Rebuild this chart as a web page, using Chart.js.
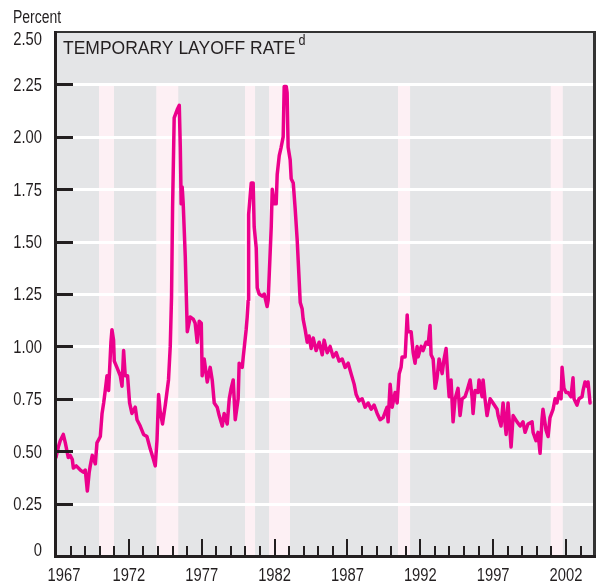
<!DOCTYPE html>
<html>
<head>
<meta charset="utf-8">
<script src="https://cdn.jsdelivr.net/npm/chart.js@4.4.0/dist/chart.umd.min.js"></script>
<style>
  html, body { margin: 0; padding: 0; background: #fff; }
  #wrap { width: 604px; height: 585px; }
</style>
</head>
<body>
<div id="wrap"><canvas id="chart" width="604" height="585"></canvas></div>
<script>
// Temporary layoff rate, percent
const years = [
  1967.00, 1967.16, 1967.29, 1967.50, 1967.64, 1967.84, 1967.98, 1968.12, 1968.19, 1968.39,
  1968.67, 1968.87, 1969.01, 1969.15, 1969.28, 1969.35, 1969.49, 1969.70, 1969.81, 1970.04,
  1970.16, 1970.27, 1970.38, 1970.50, 1970.61, 1970.68, 1970.77, 1970.84, 1970.95, 1971.00,
  1971.18, 1971.41, 1971.53, 1971.64, 1971.75, 1971.91, 1972.05, 1972.21, 1972.44, 1972.56,
  1972.78, 1973.01, 1973.24, 1973.47, 1973.69, 1973.81, 1973.93, 1974.04, 1974.15, 1974.31,
  1974.50, 1974.72, 1974.84, 1974.93, 1975.00, 1975.11, 1975.32, 1975.46, 1975.53, 1975.59,
  1975.66, 1975.73, 1975.87, 1976.01, 1976.21, 1976.42, 1976.55, 1976.69, 1976.83, 1976.97,
  1977.03, 1977.17, 1977.38, 1977.58, 1977.72, 1977.86, 1978.06, 1978.20, 1978.41, 1978.54,
  1978.75, 1978.89, 1979.02, 1979.16, 1979.30, 1979.50, 1979.57, 1979.78, 1979.85, 1980.05,
  1980.12, 1980.19, 1980.22, 1980.40, 1980.53, 1980.60, 1980.74, 1980.81, 1980.94, 1981.15,
  1981.29, 1981.49, 1981.56, 1981.77, 1981.84, 1981.97, 1982.11, 1982.18, 1982.32, 1982.45,
  1982.59, 1982.66, 1982.80, 1982.86, 1982.93, 1983.07, 1983.14, 1983.28, 1983.41, 1983.55,
  1983.62, 1983.76, 1983.89, 1983.96, 1984.10, 1984.24, 1984.37, 1984.51, 1984.65, 1984.85,
  1985.06, 1985.27, 1985.40, 1985.61, 1985.81, 1986.02, 1986.23, 1986.43, 1986.64, 1986.84,
  1987.05, 1987.25, 1987.46, 1987.60, 1987.80, 1988.01, 1988.21, 1988.42, 1988.63, 1988.83,
  1989.04, 1989.24, 1989.45, 1989.72, 1989.79, 1989.93, 1990.07, 1990.27, 1990.41, 1990.55,
  1990.68, 1990.75, 1990.96, 1991.10, 1991.16, 1991.37, 1991.51, 1991.64, 1991.78, 1991.85,
  1992.06, 1992.19, 1992.40, 1992.54, 1992.67, 1992.74, 1992.88, 1993.02, 1993.15, 1993.29,
  1993.50, 1993.63, 1993.77, 1993.91, 1993.98, 1994.11, 1994.25, 1994.39, 1994.59, 1994.73,
  1994.87, 1995.07, 1995.21, 1995.42, 1995.55, 1995.62, 1995.76, 1995.96, 1996.03, 1996.24,
  1996.31, 1996.44, 1996.58, 1996.79, 1996.99, 1997.27, 1997.34, 1997.54, 1997.68, 1997.89,
  1998.02, 1998.23, 1998.37, 1998.64, 1998.85, 1999.05, 1999.19, 1999.39, 1999.67, 1999.74,
  1999.94, 2000.08, 2000.22, 2000.35, 2000.42, 2000.63, 2000.77, 2000.90, 2001.11, 2001.25,
  2001.38, 2001.52, 2001.66, 2001.73, 2001.86, 2002.00, 2002.14, 2002.34, 2002.48, 2002.55,
  2002.75, 2002.89, 2003.10, 2003.17, 2003.30, 2003.44, 2003.51, 2003.65
];
const rates = [
  0.47, 0.52, 0.55, 0.58, 0.54, 0.47, 0.48, 0.46, 0.42, 0.43,
  0.41, 0.40, 0.41, 0.31, 0.40, 0.43, 0.48, 0.44, 0.54, 0.57,
  0.68, 0.73, 0.79, 0.86, 0.79, 0.89, 1.02, 1.08, 1.03, 0.93,
  0.90, 0.86, 0.81, 0.98, 0.86, 0.86, 0.73, 0.68, 0.71, 0.65,
  0.62, 0.58, 0.57, 0.51, 0.46, 0.43, 0.55, 0.77, 0.69, 0.63,
  0.72, 0.84, 1.00, 1.24, 1.66, 2.09, 2.13, 2.15, 1.95, 1.68,
  1.76, 1.68, 1.43, 1.07, 1.14, 1.13, 1.11, 1.02, 1.12, 1.11,
  0.86, 0.94, 0.83, 0.90, 0.84, 0.73, 0.71, 0.67, 0.62, 0.68,
  0.63, 0.75, 0.80, 0.84, 0.65, 0.75, 0.92, 0.90, 0.95, 1.08,
  1.14, 1.22, 1.63, 1.78, 1.78, 1.57, 1.47, 1.28, 1.25, 1.24,
  1.25, 1.19, 1.22, 1.57, 1.75, 1.68, 1.68, 1.82, 1.91, 1.95,
  2.00, 2.24, 2.24, 2.21, 1.95, 1.89, 1.80, 1.78, 1.66, 1.51,
  1.41, 1.21, 1.18, 1.13, 1.08, 1.02, 1.05, 0.99, 1.04, 0.98,
  1.02, 0.96, 1.03, 0.97, 1.00, 0.95, 0.97, 0.93, 0.94, 0.90,
  0.92, 0.87, 0.82, 0.77, 0.74, 0.75, 0.71, 0.73, 0.70, 0.72,
  0.68, 0.65, 0.66, 0.71, 0.64, 0.82, 0.71, 0.78, 0.73, 0.87,
  0.90, 0.95, 0.95, 1.15, 1.07, 1.07, 0.97, 0.92, 1.00, 0.95,
  1.00, 0.98, 1.02, 1.01, 1.10, 0.96, 0.94, 0.80, 0.85, 0.94,
  0.87, 0.94, 0.99, 0.83, 0.76, 0.84, 0.64, 0.75, 0.80, 0.67,
  0.75, 0.76, 0.79, 0.84, 0.76, 0.68, 0.79, 0.78, 0.84, 0.76,
  0.84, 0.75, 0.67, 0.75, 0.73, 0.70, 0.67, 0.62, 0.73, 0.58,
  0.73, 0.52, 0.67, 0.64, 0.62, 0.64, 0.59, 0.63, 0.64, 0.59,
  0.55, 0.59, 0.49, 0.65, 0.70, 0.60, 0.57, 0.66, 0.70, 0.75,
  0.73, 0.78, 0.75, 0.90, 0.80, 0.78, 0.78, 0.76, 0.85, 0.75,
  0.72, 0.75, 0.76, 0.79, 0.83, 0.81, 0.83, 0.73
];

// Recession periods (shaded)
const recessionStart = [1969.95, 1973.88, 1979.97, 1981.62, 1990.47, 2000.95];
const recessionEnd   = [1970.98, 1975.39, 1980.66, 1983.06, 1991.30, 2001.78];

// Axis ticks and labels
const yTicks = [0, 0.25, 0.5, 0.75, 1, 1.25, 1.5, 1.75, 2, 2.25, 2.5];
const yTickLabels = ["0", "0.25", "0.50", "0.75", "1.00", "1.25", "1.50", "1.75", "2.00", "2.25", "2.50"];
const xLabelYears = [1967, 1972, 1977, 1982, 1987, 1992, 1997, 2002];

const INK = "#231f20";
const SANS = "'Liberation Sans', Arial, sans-serif";

// condensed text: the regular face squeezed sideways
function narrowText(ctx, text, x, y, squeeze) {
  ctx.save();
  ctx.translate(x, y);
  ctx.scale(squeeze, 1);
  ctx.fillText(text, 0, 0);
  ctx.restore();
}

const frame = {
  id: "frame",
  beforeDatasetsDraw(chart) {
    const { ctx, chartArea: a, scales: { x, y } } = chart;
    ctx.save();
    ctx.fillStyle = "#e4e5e7";
    ctx.fillRect(a.left, a.top, a.right - a.left, a.bottom - a.top);

    // recession bands run from 0 up to the 2.25 line
    const bandTop = y.getPixelForValue(2.25);
    ctx.fillStyle = "#fdf0f4";
    recessionStart.forEach((s, i) => {
      const x0 = x.getPixelForValue(s);
      const x1 = x.getPixelForValue(recessionEnd[i]);
      ctx.fillRect(x0, bandTop, x1 - x0, a.bottom - bandTop);
    });

    ctx.strokeStyle = "#ffffff";
    ctx.lineWidth = 3;
    yTicks.forEach(v => {
      if (v <= 0 || v >= 2.5) return;
      const py = Math.round(y.getPixelForValue(v)) + 0.5;
      ctx.beginPath();
      ctx.moveTo(a.left, py);
      ctx.lineTo(a.right, py);
      ctx.stroke();
    });
    ctx.restore();
  },
  afterDatasetsDraw(chart) {
    const { ctx, chartArea: a, scales: { x, y } } = chart;
    ctx.save();
    ctx.strokeStyle = INK;
    ctx.lineCap = "butt";

    // y ticks, inside the plot
    ctx.lineWidth = 3;
    yTicks.forEach(v => {
      if (v <= 0 || v >= 2.5) return;
      const py = Math.round(y.getPixelForValue(v)) + 0.5;
      ctx.beginPath();
      ctx.moveTo(a.left, py);
      ctx.lineTo(a.left + 17, py);
      ctx.stroke();
    });

    // x ticks, yearly, taller every 5 years
    ctx.lineWidth = 2;
    for (let yr = 1968; yr <= 2003; yr++) {
      const px = Math.round(x.getPixelForValue(yr));
      const h = (yr - 1967) % 5 === 0 ? 16 : 9;
      ctx.beginPath();
      ctx.moveTo(px, a.bottom - 1);
      ctx.lineTo(px, a.bottom - 1 - h);
      ctx.stroke();
    }

    // frame
    ctx.strokeStyle = "#333333";
    ctx.lineWidth = 2;
    ctx.beginPath();
    ctx.moveTo(a.left, a.top);
    ctx.lineTo(a.right + 2, a.top);
    ctx.stroke();
    ctx.lineWidth = 3;
    ctx.beginPath();
    ctx.moveTo(a.right + 0.5, a.top - 1);
    ctx.lineTo(a.right + 0.5, a.bottom);
    ctx.stroke();

    ctx.strokeStyle = INK;
    ctx.beginPath();
    ctx.moveTo(a.left - 0.5, a.top - 1);
    ctx.lineTo(a.left - 0.5, a.bottom + 0.5);
    ctx.lineTo(a.right + 2, a.bottom + 0.5);
    ctx.stroke();

    // y labels
    ctx.fillStyle = INK;
    ctx.font = "18px " + SANS;
    ctx.textAlign = "right";
    ctx.textBaseline = "middle";
    yTicks.forEach((v, i) => {
      let py = y.getPixelForValue(v) + 1.5;
      if (v === 2.5) py += 7;
      if (v === 0) py -= 6;
      narrowText(ctx, yTickLabels[i], 42, py, 0.82);
    });

    // x labels
    ctx.textAlign = "center";
    xLabelYears.forEach(yr => {
      let px = x.getPixelForValue(yr);
      if (yr === 1967) px += 8;
      narrowText(ctx, String(yr), px, 576, 0.82);
    });

    // unit
    ctx.textAlign = "left";
    ctx.textBaseline = "alphabetic";
    ctx.font = "17.5px " + SANS;
    narrowText(ctx, "Percent", 13, 23, 0.8);

    // panel title
    ctx.font = "17.5px " + SANS;
    const title = "TEMPORARY LAYOFF RATE";
    ctx.fillText(title, 63, 54);
    const w = ctx.measureText(title).width;
    ctx.font = "14px " + SANS;
    narrowText(ctx, "d", 63 + w + 3, 45, 0.9);
    ctx.restore();
  }
};

new Chart(document.getElementById("chart"), {
  type: "line",
  data: {
    datasets: [{
      data: years.map((yr, i) => ({ x: yr, y: rates[i] })),
      borderColor: "#ec008c",
      borderWidth: 3.5,
      pointRadius: 0,
      tension: 0,
      borderJoinStyle: "round",
      borderCapStyle: "round",
    }],
  },
  options: {
    responsive: false,
    animation: false,
    events: [],
    layout: { padding: { top: 32, right: 10, left: 0, bottom: 0 } },
    plugins: { legend: { display: false }, tooltip: { enabled: false } },
    scales: {
      x: {
        type: "linear",
        min: 1967,
        max: 2003.92,
        ticks: { display: false },
        grid: { display: false },
        border: { display: false },
        afterFit: s => { s.height = 29; },
      },
      y: {
        min: 0,
        max: 2.5,
        ticks: { display: false },
        grid: { display: false },
        border: { display: false },
        afterFit: s => { s.width = 56; },
      },
    },
  },
  plugins: [frame],
});
</script>
</body>
</html>
